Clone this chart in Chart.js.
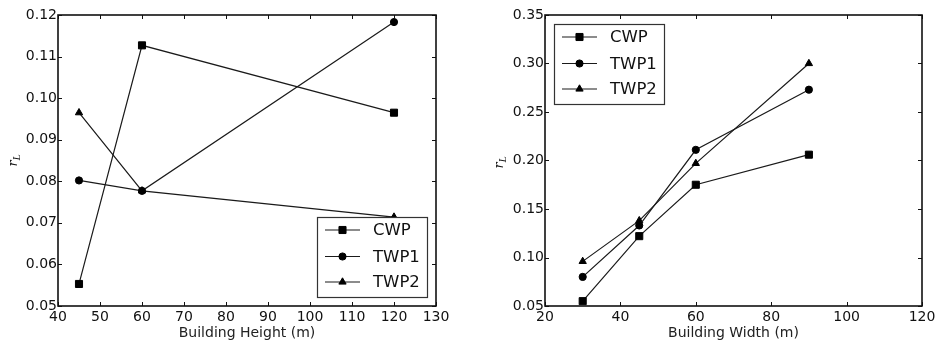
<!DOCTYPE html>
<html>
<head>
<meta charset="utf-8">
<script src="https://cdn.jsdelivr.net/npm/chart.js@4/dist/chart.umd.min.js"></script>
<style>
  html, body { margin: 0; padding: 0; background: #fff; }
  #wrap { position: relative; width: 939px; height: 345px; overflow: hidden; }
  .pane { position: absolute; top: 0; height: 345px; }
</style>
</head>
<body>
<div id="wrap">
  <div class="pane" style="left:0;width:470px"><canvas id="c1" width="470" height="345"></canvas></div>
  <div class="pane" style="left:470px;width:469px"><canvas id="c2" width="469" height="345"></canvas></div>
</div>
<script>
// ---- Data: left panel (building height) ----
const heights = [45, 60, 120];
const heightCWP  = [0.0553, 0.1127, 0.0965];
const heightTWP1 = [0.0802, 0.0777, 0.1183];
const heightTWP2 = [0.0965, 0.0777, 0.0714];
const heightXTicks = [40, 50, 60, 70, 80, 90, 100, 110, 120, 130];
const heightYTicks = [0.05, 0.06, 0.07, 0.08, 0.09, 0.10, 0.11, 0.12];

// ---- Data: right panel (building width) ----
const widths = [30, 45, 60, 90];
const widthCWP  = [0.055, 0.122, 0.175, 0.206];
const widthTWP1 = [0.080, 0.133, 0.211, 0.273];
const widthTWP2 = [0.096, 0.138, 0.197, 0.300];
const widthXTicks = [20, 40, 60, 80, 100, 120];
const widthYTicks = [0.05, 0.10, 0.15, 0.20, 0.25, 0.30, 0.35];

const seriesNames = ['CWP', 'TWP1', 'TWP2'];
const markerStyles = ['rect', 'circle', 'triangle'];
const markerRadius = [5, 3.6, 4.2];

const FONT = "'DejaVu Sans', sans-serif";
Chart.defaults.font.family = FONT;
Chart.defaults.color = '#111';

function makeDatasets(xs, ys) {
  return ys.map((vals, i) => ({
    label: seriesNames[i],
    data: xs.map((x, j) => ({ x: x, y: vals[j] })),
    borderColor: '#1a1a1a',
    borderWidth: 1.2,
    backgroundColor: '#000',
    pointBackgroundColor: '#000',
    pointBorderColor: '#000',
    pointBorderWidth: 1,
    pointStyle: markerStyles[i],
    pointRadius: markerRadius[i],
    pointHoverRadius: markerRadius[i],
    tension: 0,
    fill: false
  }));
}

const framePlugin = {
  id: 'frame',
  afterDraw(chart, args, opts) {
    const ctx = chart.ctx;
    const a = chart.chartArea;
    const xs = chart.scales.x, ys = chart.scales.y;
    ctx.save();
    // inward ticks on all four sides
    ctx.strokeStyle = '#111';
    ctx.lineWidth = 1;
    const TL = 4;
    xs.ticks.forEach(t => {
      const p = Math.round(xs.getPixelForValue(t.value)) + 0.5;
      ctx.beginPath();
      ctx.moveTo(p, a.bottom); ctx.lineTo(p, a.bottom - TL);
      ctx.moveTo(p, a.top); ctx.lineTo(p, a.top + TL);
      ctx.stroke();
    });
    ys.ticks.forEach(t => {
      const p = Math.round(ys.getPixelForValue(t.value)) + 0.5;
      ctx.beginPath();
      ctx.moveTo(a.left, p); ctx.lineTo(a.left + TL, p);
      ctx.moveTo(a.right, p); ctx.lineTo(a.right - TL, p);
      ctx.stroke();
    });
    // frame
    ctx.lineWidth = 1.6;
    ctx.strokeStyle = '#111';
    ctx.strokeRect(a.left, a.top, a.right - a.left, a.bottom - a.top);

    // y title r_L
    ctx.save();
    ctx.translate(a.left + opts.yTitleDx, (a.top + a.bottom) / 2 + opts.yTitleDy);
    ctx.rotate(-Math.PI / 2);
    ctx.fillStyle = '#111';
    ctx.textBaseline = 'alphabetic';
    ctx.textAlign = 'left';
    ctx.font = "italic 13px 'DejaVu Serif', serif";
    const rw = ctx.measureText('r').width;
    ctx.fillText('r', -6, 4);
    ctx.font = "italic 9px 'DejaVu Serif', serif";
    ctx.fillText('L', -6 + rw, 7);
    ctx.restore();

    // legend
    const L = opts.legend;
    const bw = 110, bh = 80;
    const bx = L.corner === 'br' ? a.right - L.inset - bw : a.left + L.inset;
    const by = L.corner === 'br' ? a.bottom - L.inset - bh : a.top + L.inset;
    ctx.fillStyle = '#fff';
    ctx.fillRect(bx, by, bw, bh);
    ctx.lineWidth = 1.2;
    ctx.strokeStyle = '#333';
    ctx.strokeRect(bx + 0.5, by + 0.5, bw, bh);
    const rows = [13, 39.5, 65];
    chart.data.datasets.forEach((ds, i) => {
      const ry = by + rows[i];
      ctx.strokeStyle = ds.borderColor;
      ctx.lineWidth = ds.borderWidth;
      ctx.beginPath();
      ctx.moveTo(bx + 8, ry); ctx.lineTo(bx + 43, ry);
      ctx.stroke();
      ctx.fillStyle = '#000';
      ctx.strokeStyle = '#000';
      ctx.lineWidth = 1;
      Chart.helpers.drawPoint(ctx, { pointStyle: ds.pointStyle, radius: ds.pointRadius, borderWidth: 1, rotation: 0 }, bx + 25.5, ry);
      ctx.fillStyle = '#111';
      ctx.font = "16.5px " + FONT;
      ctx.textAlign = 'left';
      ctx.textBaseline = 'middle';
      ctx.fillText(ds.label, bx + 56, ry + 1);
    });
    ctx.restore();
  }
};

function makeChart(id, xs, ys, xTicks, yTicks, xTitle, pad, yWidth, legendCorner, yDx, yDy, yDigits) {
  new Chart(document.getElementById(id), {
    type: 'line',
    data: { datasets: makeDatasets(xs, ys) },
    options: {
      responsive: false,
      animation: false,
      devicePixelRatio: 1,
      layout: { padding: pad },
      plugins: {
        legend: { display: false },
        tooltip: { enabled: false },
        frame: { legend: { corner: legendCorner, inset: 9 }, yTitleDx: yDx, yTitleDy: yDy }
      },
      scales: {
        x: {
          type: 'linear',
          min: xTicks[0],
          max: xTicks[xTicks.length - 1],
          afterBuildTicks: s => { s.ticks = xTicks.map(v => ({ value: v })); },
          afterFit: s => { s.height = 39; },
          grid: { display: false, drawTicks: false },
          border: { display: false },
          ticks: { autoSkip: false, maxRotation: 0, padding: 3, color: '#111', font: { size: 14, family: FONT } },
          title: { display: true, text: xTitle, color: '#222', font: { size: 14, family: FONT }, padding: { top: 0, bottom: 3 } }
        },
        y: {
          type: 'linear',
          min: yTicks[0],
          max: yTicks[yTicks.length - 1],
          afterBuildTicks: s => { s.ticks = yTicks.map(v => ({ value: v })); },
          afterFit: s => { s.width = yWidth; },
          grid: { display: false, drawTicks: false },
          border: { display: false },
          ticks: { autoSkip: false, padding: 1, color: '#111', font: { size: 14, family: FONT },
                   callback: v => Number(v).toFixed(2) }
        }
      }
    },
    plugins: [framePlugin]
  });
}

makeChart('c1', heights, [heightCWP, heightTWP1, heightTWP2], heightXTicks, heightYTicks,
  'Building Height (m)', { left: 0, right: 34, top: 15, bottom: 0 }, 58, 'br', -45, 0);
makeChart('c2', widths, [widthCWP, widthTWP1, widthTWP2], widthXTicks, widthYTicks,
  'Building Width (m)', { left: 20, right: 17, top: 15, bottom: 0 }, 55, 'tl', -46, 2);
</script>
</body>
</html>
